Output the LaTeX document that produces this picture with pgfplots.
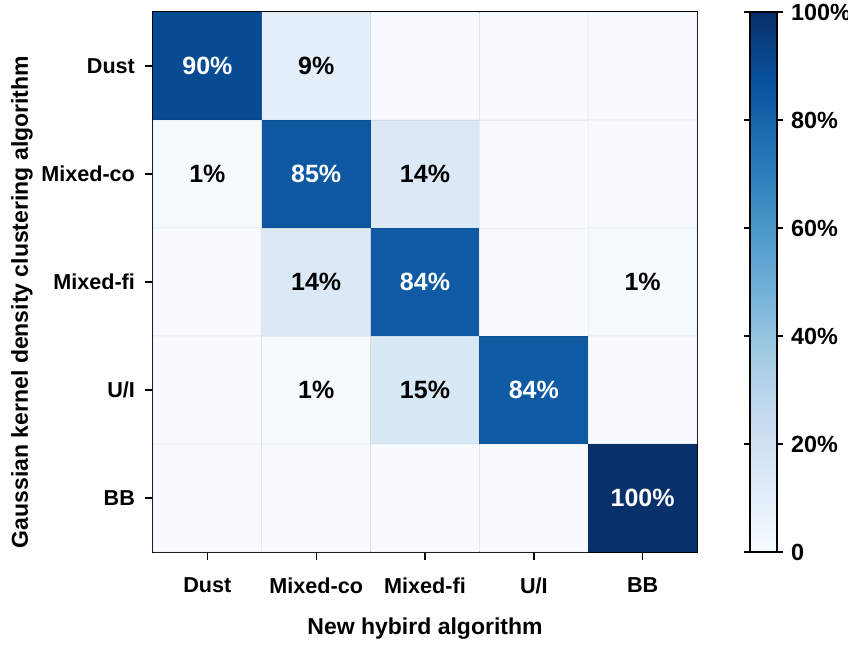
\documentclass[border=0pt]{standalone}
\usepackage{pgfplots}
\pgfplotsset{compat=1.18}
\usepgfplotslibrary{colorbrewer}
\usepackage{fontspec}
\setmainfont{Liberation Sans}

% Confusion matrix: x = new hybrid algorithm class, y = Gaussian KDE class, C = share in %
\pgfplotstableread{
x y C
0 0 90
1 0 9
2 0 0
3 0 0
4 0 0
0 1 1
1 1 85
2 1 14
3 1 0
4 1 0
0 2 0
1 2 14
2 2 84
3 2 0
4 2 1
0 3 0
1 3 1
2 3 15
3 3 84
4 3 0
0 4 0
1 4 0
2 4 0
3 4 0
4 4 100
}\confmat

\newcommand{\ticklabelfont}{\fontsize{10.8}{12}\selectfont\bfseries}
\newcommand{\cellfont}{\fontsize{12.5}{14}\selectfont\bfseries}
\newcommand{\cbarfont}{\fontsize{11.7}{14}\selectfont\bfseries}
\newcommand{\labelfont}{\fontsize{11.5}{13}\selectfont\bfseries}

\pgfplotsset{
  cell labels/.style={
    draw=none, mark=none,
    point meta=\thisrow{C},
    nodes near coords={\pgfmathprintnumber[assume math mode=true]{\pgfplotspointmeta}\%},
    every node near coord/.append style={font=\cellfont, anchor=center, text=#1},
  },
}

\begin{document}
\begin{tikzpicture}
\begin{axis}[
  scale only axis,
  width=272pt, height=270pt,
  xmin=-0.5, xmax=4.5, ymin=-0.5, ymax=4.5,
  y dir=reverse,
  xtick={0,...,4}, ytick={0,...,4},
  xticklabels={Dust,Mixed-co,Mixed-fi,U/I,BB},
  yticklabels={Dust,Mixed-co,Mixed-fi,U/I,BB},
  xtick pos=left, ytick pos=left,
  tick align=outside,
  major tick length=4pt,
  tick style={black, line width=0.7pt},
  axis line style={black, line width=1pt},
  ticklabel style={font=\ticklabelfont},
  xticklabel style={yshift=-5.5pt},
  yticklabel style={xshift=-1.5pt},
  xlabel={New hybird algorithm},
  ylabel={Gaussian kernel density clustering algorithm},
  xlabel style={font=\labelfont, at={(axis description cs:0.5,-0.141)}, anchor=center},
  ylabel style={font=\labelfont, at={(axis description cs:-0.241,0.463)}, anchor=center},
  colormap/Blues,
  point meta min=0, point meta max=100,
  colorbar,
  colorbar style={
    at={(parent axis.north east)}, anchor=north west, xshift=18pt,
    width=13.5pt,
    ytick={0,20,40,60,80,100},
    yticklabels={0,20\%,40\%,60\%,80\%,100\%},
    yticklabel style={font=\cbarfont, inner ysep=0pt, inner xsep=0pt, xshift=3.8pt},
    tick align=outside,
    major tick length=3pt,
    tick style={black, line width=0.7pt},
    axis line style={black, line width=0.8pt},
  },
]
\addplot[matrix plot*, mesh/cols=5, point meta=explicit,
  draw=black, draw opacity=0.06, line width=0.4pt]
  table[x=x, y=y, meta=C]{\confmat};

% dark cells get white labels, light non-empty cells black labels
\addplot[cell labels=white, restrict expr to domain={\thisrow{C}}{50:100}]
  table[x=x, y=y]{\confmat};
\addplot[cell labels=black, restrict expr to domain={\thisrow{C}}{0.5:50}]
  table[x=x, y=y]{\confmat};

\coordinate (lowerleft) at (axis description cs:0,0);
\coordinate (upperright) at (axis description cs:1,1);
\end{axis}
\pgfresetboundingbox
\path ([shift={(-76.5pt,-47pt)}]lowerleft) rectangle ([shift={(75.5pt,6pt)}]upperright);
\end{tikzpicture}
\end{document}
